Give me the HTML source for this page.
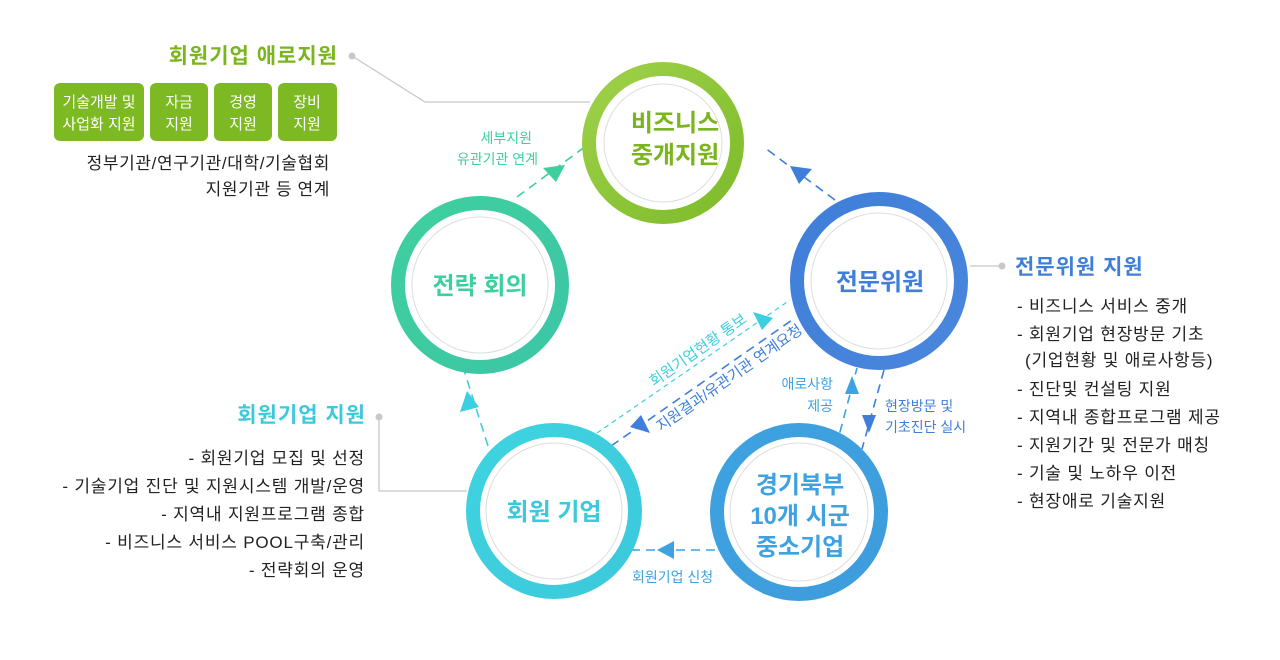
<!DOCTYPE html>
<html><head><meta charset="utf-8"><style>
body{margin:0;width:1280px;height:660px;background:#fff;overflow:hidden;font-family:"Liberation Sans","Noto Sans CJK KR",sans-serif;}
svg{position:absolute;left:0;top:0}
text{font-family:"Liberation Sans","Noto Sans CJK KR",sans-serif}
</style></head><body>
<svg width="1280" height="660" viewBox="0 0 1280 660">
<defs>
<linearGradient id="g1" x1="0" y1="0" x2="1" y2="1"><stop offset="0" stop-color="#9fd14a"/><stop offset="1" stop-color="#7dbb2a"/></linearGradient>
<linearGradient id="g2" x1="0" y1="0" x2="1" y2="1"><stop offset="0" stop-color="#3fcf9e"/><stop offset="1" stop-color="#3cc6a6"/></linearGradient>
<linearGradient id="g3" x1="0" y1="0" x2="1" y2="1"><stop offset="0" stop-color="#3f7fd9"/><stop offset="1" stop-color="#4a86dc"/></linearGradient>
<linearGradient id="g4" x1="0" y1="0" x2="1" y2="1"><stop offset="0" stop-color="#3fd3e0"/><stop offset="1" stop-color="#3cc9dc"/></linearGradient>
<linearGradient id="g5" x1="0" y1="0" x2="1" y2="1"><stop offset="0" stop-color="#3ea2e0"/><stop offset="1" stop-color="#3e9cdc"/></linearGradient>
</defs>
<g stroke="#c8c8c8" stroke-width="1.3" fill="none">
<polyline points="352,56 425,102 590,102"/>
<line x1="1000" y1="266" x2="970" y2="266"/>
<polyline points="379,418 379,491 467,491"/>
</g>
<g fill="#c8c8c8"><circle cx="352" cy="56" r="3.5"/><circle cx="1002" cy="266" r="3.5"/><circle cx="379" cy="417" r="3.5"/></g>
<g fill="none" stroke-width="1.6" stroke-dasharray="9,6">
<line x1="517" y1="197" x2="586" y2="146" stroke="#3ecf9e"/>
<line x1="835" y1="200" x2="765" y2="148" stroke="#3f7fd9"/>
<line x1="488" y1="446" x2="464" y2="370" stroke="#3ccfdf"/>
<line x1="597" y1="433" x2="790" y2="300" stroke="#3ccfdf" stroke-dasharray="5,4" stroke-width="1.2"/>
<line x1="611" y1="446" x2="795" y2="318" stroke="#3f7fd9"/>
<line x1="836" y1="447" x2="857" y2="368" stroke="#3ea2e0"/>
<line x1="884" y1="370" x2="862" y2="449" stroke="#3f7fd9"/>
<line x1="715" y1="550" x2="632" y2="550" stroke="#3ea2e0"/>
</g>
<g>
<polygon points="565,165 543,168 556,182" fill="#3ecf9e"/>
<polygon points="790,166 812,169 799,184" fill="#3f7fd9"/>
<polygon points="467,391 460,412 479,407" fill="#3ccfdf"/>
<polygon points="773,318 753,312 762,330" fill="#3ccfdf"/>
<polygon points="630,427 650,433 641,415" fill="#3f7fd9"/>
<polygon points="852,376 845,394 859,394" fill="#3ea2e0"/>
<polygon points="869,433 876,415 862,415" fill="#3f7fd9"/>
<polygon points="657,550 674,541 674,559" fill="#3ea2e0"/>
</g>
<g>
<circle cx="663" cy="143" r="74" fill="#fff" stroke="url(#g1)" stroke-width="14"/>
<circle cx="663" cy="143" r="59" fill="#fff" stroke="#ddd" stroke-width="1"/>
<circle cx="480" cy="285" r="82" fill="#fff" stroke="url(#g2)" stroke-width="14"/>
<circle cx="480" cy="285" r="68" fill="#fff" stroke="#ddd" stroke-width="1"/>
<circle cx="879" cy="281" r="82" fill="#fff" stroke="url(#g3)" stroke-width="14"/>
<circle cx="879" cy="281" r="68" fill="#fff" stroke="#ddd" stroke-width="1"/>
<circle cx="554" cy="511" r="81" fill="#fff" stroke="url(#g4)" stroke-width="14"/>
<circle cx="554" cy="511" r="68" fill="#fff" stroke="#ddd" stroke-width="1"/>
<circle cx="799" cy="512" r="82" fill="#fff" stroke="url(#g5)" stroke-width="14"/>
<circle cx="799" cy="512" r="69" fill="#fff" stroke="#ddd" stroke-width="1"/>
</g>
<g font-weight="bold" font-size="24" text-anchor="middle">
<text x="675" y="131" fill="#7ab51d">비즈니스</text>
<text x="675" y="163" fill="#7ab51d">중개지원</text>
<text x="480" y="294" fill="#3ecf9e">전략 회의</text>
<text x="880" y="290" fill="#3f7fd9">전문위원</text>
<text x="554" y="520" fill="#3cc9dc">회원 기업</text>
<text x="800" y="493" fill="#3ea2e0">경기북부</text>
<text x="800" y="524" fill="#3ea2e0">10개 시군</text>
<text x="800" y="555" fill="#3ea2e0">중소기업</text>
</g>
<g font-size="14">
<text x="532" y="143" fill="#3ecf9e" text-anchor="end">세부지원</text>
<text x="538" y="164" fill="#3ecf9e" text-anchor="end">유관기관 연계</text>
<text x="833" y="389" fill="#3ea2e0" text-anchor="end">애로사항</text>
<text x="833" y="411" fill="#3ea2e0" text-anchor="end">제공</text>
<text x="885" y="411" fill="#3f7fd9">현장방문 및</text>
<text x="885" y="432" fill="#3f7fd9">기초진단 실시</text>
<text x="632" y="582" fill="#3ea2e0">회원기업 신청</text>
<text transform="translate(654,387) rotate(-35)" fill="#3ccfdf" font-size="15">회원기업현황 통보</text>
<text transform="translate(661,432) rotate(-35)" fill="#3f7fd9" font-size="15">지원결과/유관기관 연계요청</text>
</g>
<text x="338" y="63" font-size="21" font-weight="bold" fill="#7ab51d" text-anchor="end" letter-spacing="1">회원기업 애로지원</text>
<g fill="#7cb922">
<rect x="54" y="83" width="90" height="58" rx="6"/>
<rect x="150" y="83" width="58" height="58" rx="6"/>
<rect x="214" y="83" width="58" height="58" rx="6"/>
<rect x="278" y="83" width="59" height="58" rx="6"/>
</g>
<g font-size="15" fill="#fff" text-anchor="middle">
<text x="99" y="107">기술개발 및</text><text x="99" y="129">사업화 지원</text>
<text x="179" y="107">자금</text><text x="179" y="129">지원</text>
<text x="243" y="107">경영</text><text x="243" y="129">지원</text>
<text x="307" y="107">장비</text><text x="307" y="129">지원</text>
</g>
<g font-size="17" fill="#222" text-anchor="end" letter-spacing="0.6">
<text x="330" y="169">정부기관/연구기관/대학/기술협회</text>
<text x="330" y="195">지원기관 등 연계</text>
</g>
<text x="366" y="422" font-size="21" font-weight="bold" fill="#3cc9dc" text-anchor="end" letter-spacing="1">회원기업 지원</text>
<g font-size="17" fill="#222" text-anchor="end" letter-spacing="0.8">
<text x="365" y="464">- 회원기업 모집 및 선정</text>
<text x="365" y="492">- 기술기업 진단 및 지원시스템 개발/운영</text>
<text x="365" y="520">- 지역내 지원프로그램 종합</text>
<text x="365" y="548">- 비즈니스 서비스 POOL구축/관리</text>
<text x="365" y="576">- 전략회의 운영</text>
</g>
<text x="1015" y="274" font-size="21" font-weight="bold" fill="#3f7fd9" letter-spacing="1">전문위원 지원</text>
<g font-size="17" fill="#222" letter-spacing="0.8">
<text x="1017" y="312">- 비즈니스 서비스 중개</text>
<text x="1017" y="340">- 회원기업 현장방문 기초</text>
<text x="1025" y="366">(기업현황 및 애로사항등)</text>
<text x="1017" y="395">- 진단및 컨설팅 지원</text>
<text x="1017" y="423">- 지역내 종합프로그램 제공</text>
<text x="1017" y="451">- 지원기간 및 전문가 매칭</text>
<text x="1017" y="479">- 기술 및 노하우 이전</text>
<text x="1017" y="507">- 현장애로 기술지원</text>
</g>
</svg>
</body></html>
